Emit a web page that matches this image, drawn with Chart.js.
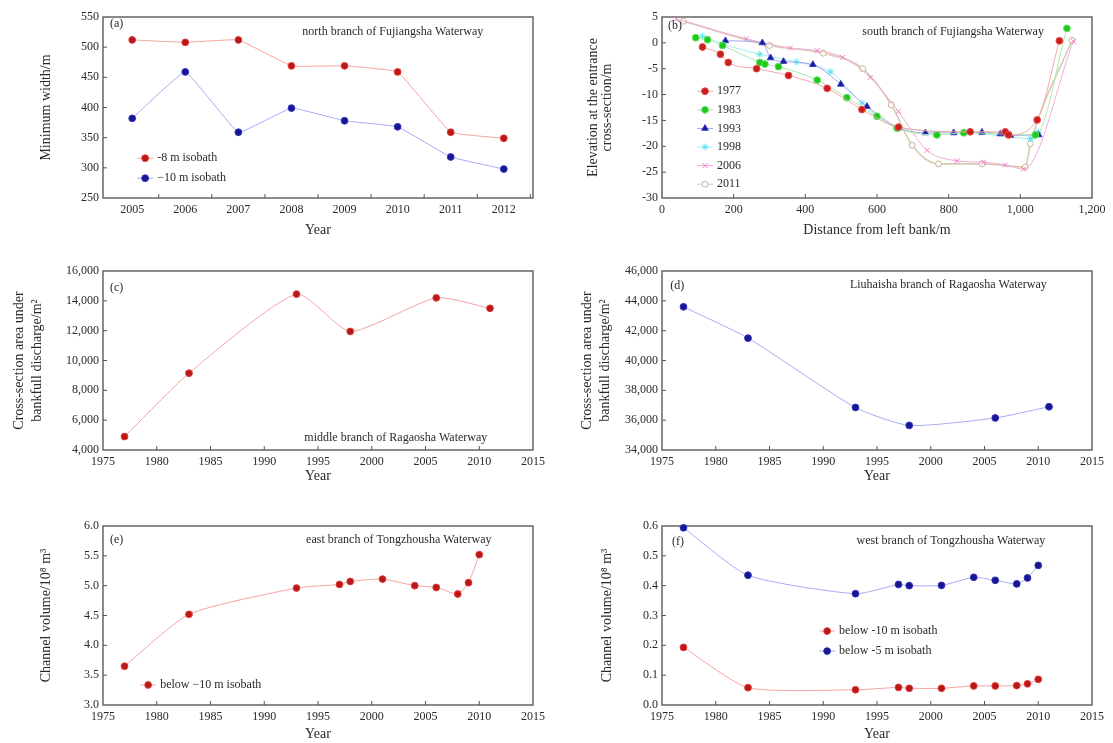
<!DOCTYPE html>
<html>
<head>
<meta charset="utf-8">
<script src="https://cdn.jsdelivr.net/npm/chart.js@4.4.1/dist/chart.umd.min.js"></script>
<style>
  body { margin: 0; background: #fff; width: 1113px; height: 743px; overflow: hidden; position: relative; }
  canvas { position: absolute; }
</style>
</head>
<body>
<canvas id="pa" width="560" height="245" style="left:0;top:0"></canvas>
<canvas id="pb" width="563" height="245" style="left:550px;top:0"></canvas>
<canvas id="pc" width="560" height="250" style="left:0;top:245px"></canvas>
<canvas id="pd" width="563" height="250" style="left:550px;top:245px"></canvas>
<canvas id="pe" width="560" height="248" style="left:0;top:495px"></canvas>
<canvas id="pf" width="563" height="248" style="left:550px;top:495px"></canvas>
<script>
// (a) minimum width, north branch of Fujiangsha
const yearsA = [2005, 2006, 2007, 2008, 2009, 2010, 2011, 2012];
const width8m = [512, 508, 512, 469, 469, 459, 359, 349];
const width10m = [382, 459, 359, 399, 378, 368, 318, 298];
const yTicksA = [250, 300, 350, 400, 450, 500, 550];

// (b) entrance cross-section, south branch of Fujiangsha
const dist1977 = [113, 163, 185, 264, 353, 461, 558, 660, 860, 958, 967, 1047, 1109];
const elev1977 = [-0.8, -2.2, -3.8, -5.0, -6.3, -8.8, -12.9, -16.3, -17.2, -17.2, -17.8, -14.9, 0.4];
const dist1983 = [94, 127, 169, 273, 287, 325, 433, 516, 600, 656, 767, 842, 1042, 1130];
const elev1983 = [1.0, 0.6, -0.5, -3.8, -4.1, -4.6, -7.2, -10.6, -14.2, -16.5, -17.8, -17.4, -17.8, 2.8];
const dist1993 = [177, 280, 303, 339, 421, 499, 572, 660, 735, 814, 893, 944, 972, 1051];
const elev1993 = [0.4, 0.0, -2.9, -3.6, -4.2, -8.0, -12.3, -16.4, -17.4, -17.4, -17.3, -17.6, -17.9, -17.8];
const dist1998 = [113, 169, 273, 376, 470, 558, 660, 842, 1028, 1051];
const elev1998 = [1.3, -0.2, -2.2, -3.7, -5.6, -11.6, -16.4, -17.2, -18.5, -17.3];
const dist2006 = [40, 235, 358, 433, 504, 581, 660, 740, 823, 898, 958, 1009, 1148];
const elev2006 = [4.6, 0.8, -1.0, -1.5, -2.8, -6.7, -13.3, -20.8, -22.8, -23.1, -23.6, -24.4, 0.3];
const dist2011 = [60, 300, 450, 560, 640, 698, 772, 893, 1014, 1028, 1144];
const elev2011 = [4.2, -0.5, -2.0, -5.0, -12.0, -19.8, -23.4, -23.4, -24.0, -19.5, 0.5];
const xTicksB = [0, 200, 400, 600, 800, 1000, 1200];
const yTicksB = [-30, -25, -20, -15, -10, -5, 0, 5];

// (c) and (d) bankfull cross-section area, Ragaosha
const yearsCD = [1977, 1983, 1993, 1998, 2006, 2011];
const areaMiddle = [4900, 9150, 14450, 11950, 14200, 13500];
const areaLiuhaisha = [43600, 41500, 36850, 35650, 36150, 36900];
const yTicksC = [4000, 6000, 8000, 10000, 12000, 14000, 16000];
const yTicksD = [34000, 36000, 38000, 40000, 42000, 44000, 46000];

// (e) and (f) channel volume, Tongzhousha
const yearsEF = [1977, 1983, 1993, 1997, 1998, 2001, 2004, 2006, 2008, 2009, 2010];
const volEast10m = [3.65, 4.52, 4.96, 5.02, 5.07, 5.11, 5.00, 4.97, 4.86, 5.05, 5.52];
const volWest10m = [0.193, 0.058, 0.051, 0.059, 0.056, 0.056, 0.064, 0.064, 0.065, 0.071, 0.086];
const volWest5m = [0.594, 0.435, 0.373, 0.404, 0.400, 0.401, 0.428, 0.418, 0.406, 0.426, 0.468];
const yTicksE = [3.0, 3.5, 4.0, 4.5, 5.0, 5.5, 6.0];
const yTicksF = [0.0, 0.1, 0.2, 0.3, 0.4, 0.5, 0.6];
const xTicksYears = [1975, 1980, 1985, 1990, 1995, 2000, 2005, 2010, 2015];

const FONT = 'Liberation Serif';
const TXT = '#2a2a2a';

const pairs = (xs, ys) => xs.map((x, i) => ({ x: x, y: ys[i] }));
const comma = v => v.toLocaleString('en-US');

// frame box and small inward ticks
const framePlugin = {
  id: 'frame',
  beforeDatasetsDraw(chart, args, opts) {
    const { ctx, chartArea: a, scales } = chart;
    ctx.save();
    ctx.strokeStyle = '#6e6e6e';
    ctx.lineWidth = 1.6;
    ctx.strokeRect(a.left, a.top, a.width, a.height);
    ctx.lineWidth = 1;
    ctx.strokeStyle = '#555';
    const shift = opts.xShift || 0;
    scales.x.ticks.forEach(t => {
      const px = scales.x.getPixelForValue(t.value + shift);
      if (px <= a.left + 2 || px >= a.right - 2) return;
      ctx.beginPath(); ctx.moveTo(px, a.bottom); ctx.lineTo(px, a.bottom - 4); ctx.stroke();
    });
    scales.y.ticks.forEach(t => {
      const py = scales.y.getPixelForValue(t.value);
      if (py <= a.top + 2 || py >= a.bottom - 2) return;
      ctx.beginPath(); ctx.moveTo(a.left, py); ctx.lineTo(a.left + 4, py); ctx.stroke();
    });
    ctx.restore();
  }
};

// in-plot texts and legend
const notesPlugin = {
  id: 'notes',
  afterDraw(chart, args, opts) {
    const { ctx, chartArea: a } = chart;
    ctx.save();
    ctx.textBaseline = 'middle';
    (opts.texts || []).forEach(n => {
      ctx.fillStyle = TXT;
      ctx.font = (n.size || 12) + 'px "' + FONT + '"';
      ctx.textAlign = n.align || 'left';
      ctx.fillText(n.text, a.left + n.fx * a.width, a.top + n.fy * a.height);
    });
    if (opts.legend) {
      const lg = opts.legend;
      chart.data.datasets.forEach((ds, i) => {
        const x = a.left + lg.fx * a.width;
        const y = a.top + lg.fy * a.height + i * lg.gap;
        ctx.strokeStyle = ds.borderColor;
        ctx.lineWidth = 1;
        ctx.beginPath(); ctx.moveTo(x - 8, y); ctx.lineTo(x + 8, y); ctx.stroke();
        ctx.fillStyle = ds.pointBackgroundColor;
        ctx.strokeStyle = ds.pointBorderColor;
        Chart.helpers.drawPoint(ctx, { pointStyle: ds.pointStyle || 'circle', radius: ds.pointRadius, borderWidth: 1, rotation: 0 }, x, y);
        ctx.fillStyle = TXT;
        ctx.font = '12px "' + FONT + '"';
        ctx.textAlign = 'left';
        ctx.fillText(ds.label, x + 12, y);
      });
    }
    ctx.restore();
  }
};

function series(label, data, line, fill, edge, extra) {
  return Object.assign({
    label: label,
    data: data,
    borderColor: line,
    borderWidth: 1,
    pointBackgroundColor: fill,
    pointBorderColor: edge,
    pointBorderWidth: 1,
    pointRadius: 3.4,
    pointStyle: 'circle',
    tension: 0.2,
    clip: false
  }, extra || {});
}

function makeChart(id, o) {
  const tickFont = { family: FONT, size: 12 };
  const titleFont = { family: FONT, size: 14, lineHeight: o.yLh || 1.2 };
  return new Chart(document.getElementById(id), {
    type: 'line',
    data: { datasets: o.datasets },
    options: {
      responsive: false,
      animation: false,
      layout: { padding: { top: o.top, right: o.right, left: 0, bottom: 0 } },
      plugins: {
        legend: { display: false },
        tooltip: { enabled: false },
        frame: { xShift: o.xShift || 0 },
        notes: { texts: o.texts, legend: o.legend }
      },
      scales: {
        x: {
          type: 'linear',
          min: o.xMin, max: o.xMax,
          afterBuildTicks: s => { s.ticks = o.xTicks.map(v => ({ value: v })); },
          afterFit: s => { s.height = o.xH; },
          grid: { display: false, drawTicks: false },
          border: { display: false },
          ticks: { padding: 5, color: TXT, font: tickFont, maxRotation: 0, autoSkip: false, callback: o.xFmt || (v => String(v)) },
          title: { display: true, text: o.xTitle, color: TXT, font: { family: FONT, size: 14 }, padding: { top: 0, bottom: o.xTitlePad } }
        },
        y: {
          type: 'linear',
          min: o.yMin, max: o.yMax,
          afterBuildTicks: s => { s.ticks = o.yTicks.map(v => ({ value: v })); },
          afterFit: s => { s.width = o.yW; },
          grid: { display: false, drawTicks: false },
          border: { display: false },
          ticks: { padding: 4, color: TXT, font: tickFont, autoSkip: false, callback: o.yFmt || (v => String(v)) },
          title: { display: true, text: o.yTitle, color: TXT, font: titleFont, padding: { top: o.yTitlePad, bottom: 0 } }
        }
      }
    },
    plugins: [framePlugin, notesPlugin]
  });
}

const RED = ['#f5a3a3', '#b81818', '#e23a3a'];
const BLUE = ['#a9a9f2', '#16168f', '#3434c0'];

// (a)
makeChart('pa', {
  top: 17, right: 27, yW: 103, xH: 47, xTitlePad: 6, yTitlePad: 38,
  xMin: 2004.45, xMax: 2012.55, xTicks: yearsA, xShift: 0.5,
  yMin: 250, yMax: 550, yTicks: yTicksA,
  xTitle: 'Year', yTitle: 'Minimum width/m',
  datasets: [
    series('-8 m isobath', pairs(yearsA, width8m), RED[0], RED[1], RED[2], { tension: 0.08 }),
    series('\u221210 m isobath', pairs(yearsA, width10m), BLUE[0], BLUE[1], BLUE[2], { tension: 0.08 })
  ],
  texts: [
    { text: '(a)', fx: 0.016, fy: 0.04 },
    { text: 'north branch of Fujiangsha Waterway', fx: 0.674, fy: 0.08, align: 'center' }
  ],
  legend: { fx: 0.098, fy: 0.78, gap: 20 }
});

// (b)
const mono = { cubicInterpolationMode: 'monotone' };
makeChart('pb', {
  top: 17, right: 21, yW: 112, xH: 47, xTitlePad: 6, yTitlePad: 37, yLh: 0.95,
  xMin: 0, xMax: 1200, xTicks: xTicksB, xFmt: comma,
  yMin: -30, yMax: 5, yTicks: yTicksB,
  xTitle: 'Distance from left bank/m', yTitle: ['Elevation at the entrance', 'cross-section/m'],
  datasets: [
    series('1977', pairs(dist1977, elev1977), '#f4a8a8', '#c81e1e', '#ea4a4a', mono),
    series('1983', pairs(dist1983, elev1983), '#a8eca8', '#1ec81e', '#5ee05e', mono),
    series('1993', pairs(dist1993, elev1993), '#a4a4ee', '#1a1a96', '#3a3ac4', Object.assign({ pointStyle: 'triangle', pointRadius: 3.8 }, mono)),
    series('1998', pairs(dist1998, elev1998), '#a6ecf0', '#2cd4dc', '#5ee4ea', Object.assign({ pointStyle: 'star', pointRadius: 3.5 }, mono)),
    series('2006', pairs(dist2006, elev2006), '#f4aad8', '#ee5cbc', '#f27ccb', Object.assign({ pointStyle: 'crossRot', pointRadius: 3.5 }, mono)),
    series('2011', pairs(dist2011, elev2011), '#d6ccb4', '#ffffff', '#c4b490', Object.assign({ pointRadius: 3, borderWidth: 1.6 }, mono))
  ],
  texts: [
    { text: '(b)', fx: 0.014, fy: 0.05 },
    { text: 'south branch of Fujiangsha Waterway', fx: 0.677, fy: 0.083, align: 'center' }
  ],
  legend: { fx: 0.1, fy: 0.41, gap: 18.6 }
});

// (c)
makeChart('pc', {
  top: 26, right: 27, yW: 103, xH: 45, xTitlePad: 10, yTitlePad: 10, yLh: 1.3,
  xMin: 1975, xMax: 2015, xTicks: xTicksYears,
  yMin: 4000, yMax: 16000, yTicks: yTicksC, yFmt: comma,
  xTitle: 'Year', yTitle: ['Cross-section area under', 'bankfull discharge/m\u00b2'],
  datasets: [
    series('middle branch', pairs(yearsCD, areaMiddle), RED[0], RED[1], RED[2])
  ],
  texts: [
    { text: '(c)', fx: 0.016, fy: 0.095 },
    { text: 'middle branch of Ragaosha Waterway', fx: 0.681, fy: 0.933, align: 'center' }
  ]
});

// (d)
makeChart('pd', {
  top: 26, right: 21, yW: 112, xH: 45, xTitlePad: 10, yTitlePad: 28, yLh: 1.3,
  xMin: 1975, xMax: 2015, xTicks: xTicksYears,
  yMin: 34000, yMax: 46000, yTicks: yTicksD, yFmt: comma,
  xTitle: 'Year', yTitle: ['Cross-section area under', 'bankfull discharge/m\u00b2'],
  datasets: [
    series('Liuhaisha branch', pairs(yearsCD, areaLiuhaisha), BLUE[0], BLUE[1], BLUE[2])
  ],
  texts: [
    { text: '(d)', fx: 0.019, fy: 0.084 },
    { text: 'Liuhaisha branch of Ragaosha Waterway', fx: 0.666, fy: 0.078, align: 'center' }
  ]
});

// (e)
makeChart('pe', {
  top: 31, right: 27, yW: 103, xH: 38, xTitlePad: 0, yTitlePad: 38,
  xMin: 1975, xMax: 2015, xTicks: xTicksYears,
  yMin: 3.0, yMax: 6.0, yTicks: yTicksE, yFmt: v => v.toFixed(1),
  xTitle: 'Year', yTitle: 'Channel volume/10\u2078 m\u00b3',
  datasets: [
    series('below \u221210 m isobath', pairs(yearsEF, volEast10m), RED[0], RED[1], RED[2])
  ],
  texts: [
    { text: '(e)', fx: 0.016, fy: 0.078 },
    { text: 'east branch of Tongzhousha Waterway', fx: 0.688, fy: 0.078, align: 'center' }
  ],
  legend: { fx: 0.105, fy: 0.888, gap: 20 }
});

// (f)
makeChart('pf', {
  top: 31, right: 21, yW: 112, xH: 38, xTitlePad: 0, yTitlePad: 49,
  xMin: 1975, xMax: 2015, xTicks: xTicksYears,
  yMin: 0, yMax: 0.6, yTicks: yTicksF, yFmt: v => v.toFixed(1),
  xTitle: 'Year', yTitle: 'Channel volume/10\u2078 m\u00b3',
  datasets: [
    series('below -10 m isobath', pairs(yearsEF, volWest10m), RED[0], RED[1], RED[2]),
    series('below -5 m isobath', pairs(yearsEF, volWest5m), BLUE[0], BLUE[1], BLUE[2])
  ],
  texts: [
    { text: '(f)', fx: 0.023, fy: 0.09 },
    { text: 'west branch of Tongzhousha Waterway', fx: 0.672, fy: 0.084, align: 'center' }
  ],
  legend: { fx: 0.384, fy: 0.587, gap: 20 }
});
</script>
</body>
</html>
